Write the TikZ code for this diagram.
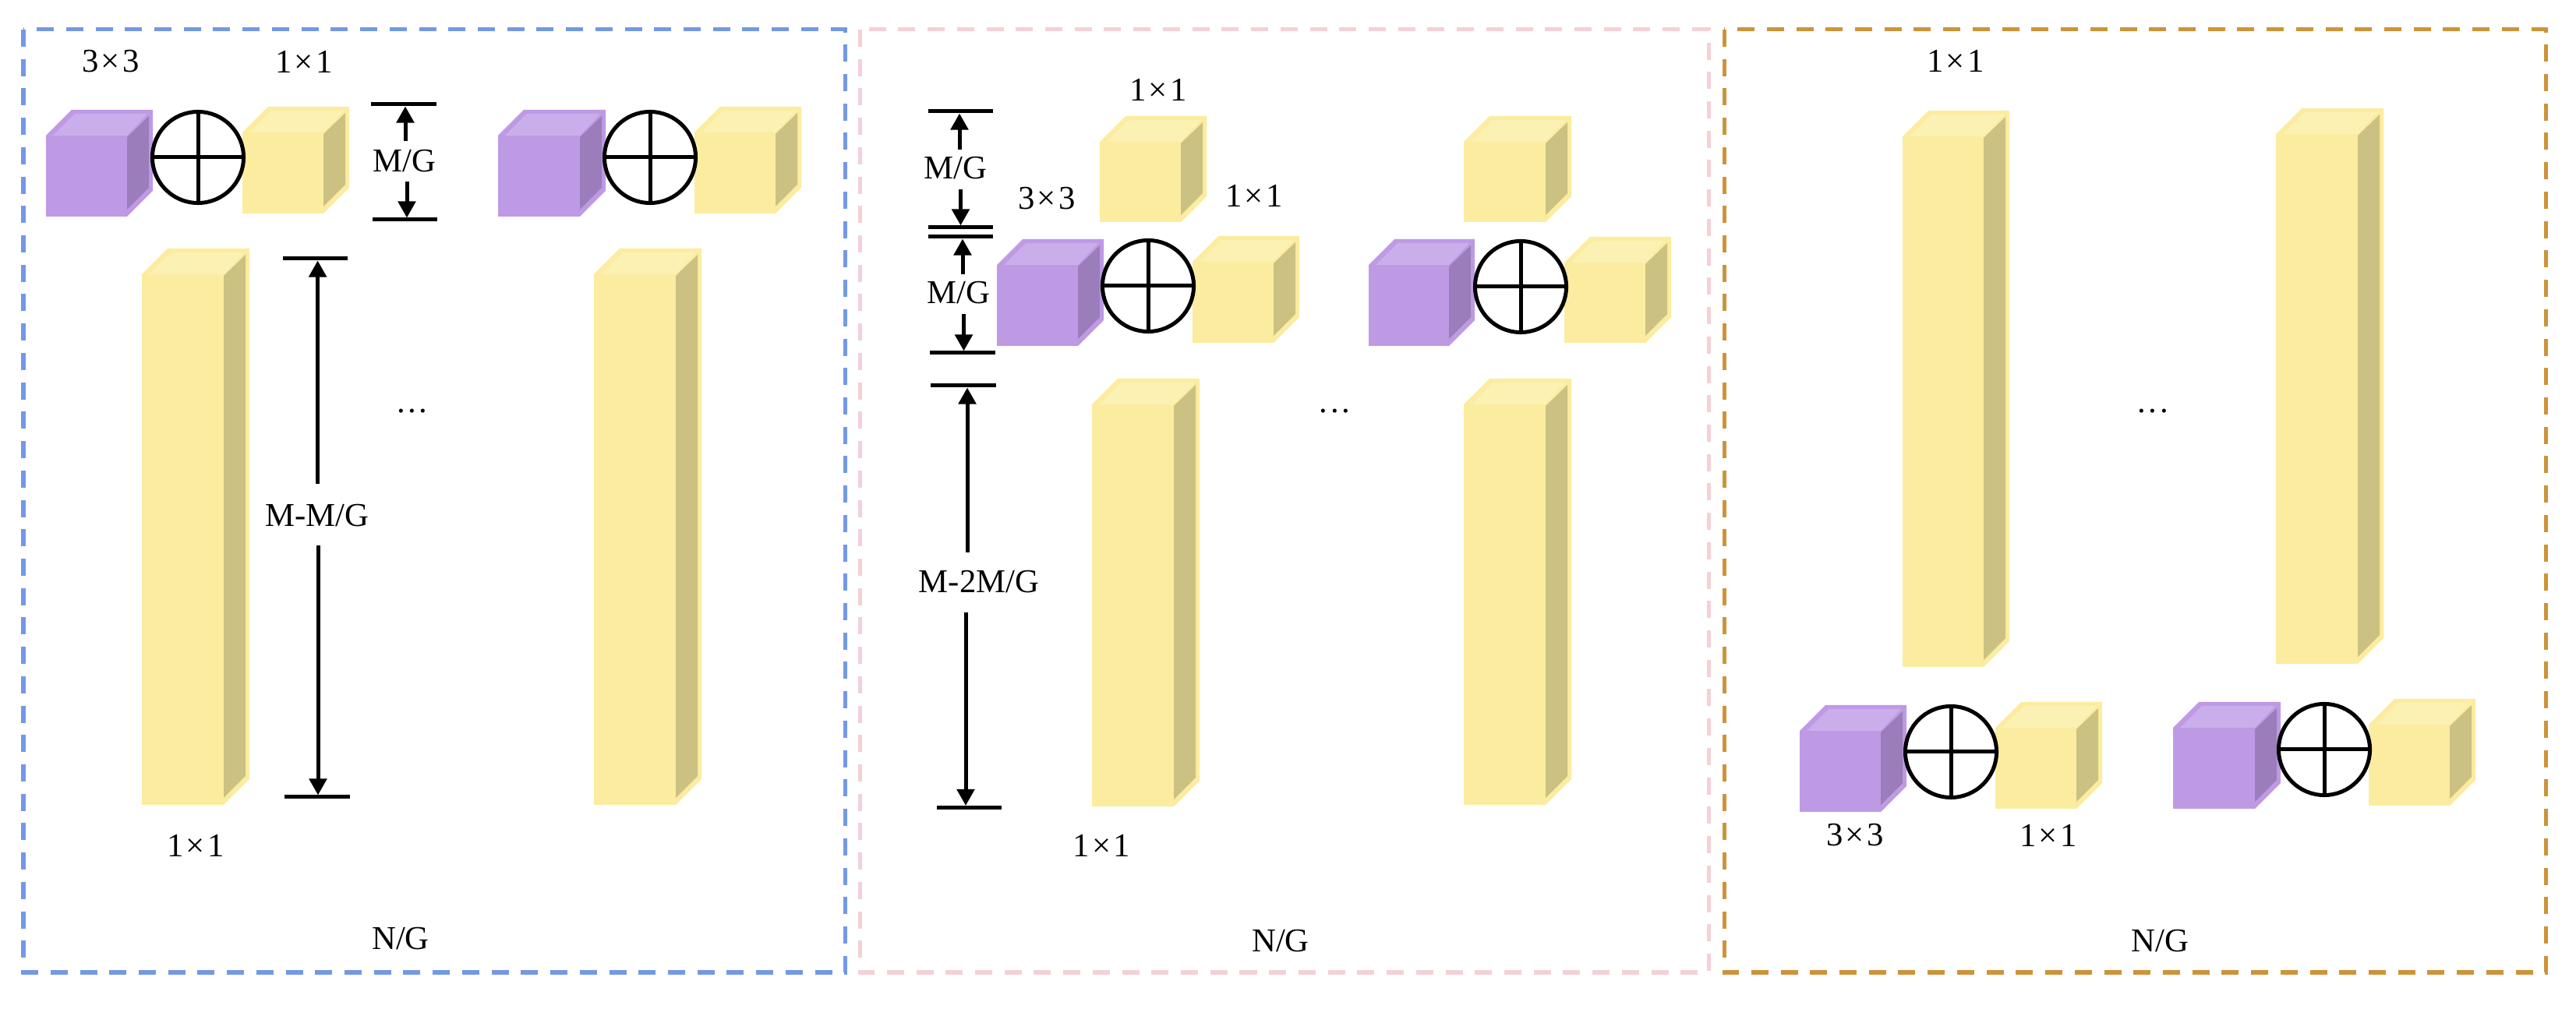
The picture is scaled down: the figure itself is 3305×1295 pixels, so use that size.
\documentclass[tikz,border=0pt]{standalone}
\usepackage{fontspec}
\setmainfont{Liberation Serif}
\usetikzlibrary{arrows.meta}
\definecolor{purpleFront}{HTML}{BE9AE5}
\definecolor{purpleTop}{HTML}{CAAEEB}
\definecolor{purpleSide}{HTML}{9A7DBA}
\definecolor{yellowFront}{HTML}{FBEC9F}
\definecolor{yellowTop}{HTML}{FBF1B2}
\definecolor{yellowSide}{HTML}{CBC182}
\definecolor{frameBlue}{HTML}{7398E6}
\definecolor{framePink}{HTML}{F5D0D6}
\definecolor{frameOrange}{HTML}{CE9338}
\tikzset{
	frame/.style={line width=0.05cm, dash pattern=on 0.22cm off 0.157cm},
	tag/.style={inner sep=0pt, font=\fontsize{12.15pt}{14pt}\selectfont},
	dimbar/.style={fill=black, inner sep=0pt, minimum width=0.83cm, minimum height=0.05cm},
	dimline/.style={line width=0.05cm, shorten >=0.025cm, -{Triangle[length=0.21cm,width=0.22cm]}},
}
\def\by{\kern.08em×\kern.08em}
\def\threedots{.\kern.085em.\kern.085em.}
% colour, front top-left corner, front size
\def\cubeblock[#1](#2,#3)(#4,#5){
	\fill[#1Front] (#2,#3) -- (#2+33,#3-33) -- (#2+#4+33,#3-33) -- (#2+#4+33,#3+#5-33) -- (#2+#4,#3+#5) -- (#2,#3+#5) -- cycle;
	\fill[#1Top] (#2+9,#3) -- (#2+37,#3-28) -- (#2+#4+26,#3-28) -- (#2+#4,#3) -- cycle;
	\fill[#1Side] (#2+#4,#3+2) -- (#2+#4+28,#3-25) -- (#2+#4+28,#3+#5-37) -- (#2+#4,#3+#5-9) -- cycle;
}
\def\addmark(#1,#2){
	\draw[line width=0.05cm, fill=white] (#1,#2) circle (0.585cm);
	\draw[line width=0.05cm] (#1-58.5,#2) -- (#1+58.5,#2);
	\draw[line width=0.05cm] (#1,#2-58.5) -- (#1,#2+58.5);
}

\begin{document}
\begin{tikzpicture}[x=0.01cm, y=-0.01cm]
	%%%%% START %%%%%
	\useasboundingbox (0,0) rectangle (3305,1295);
	
	\draw[frame, color=frameBlue] (30,38) rectangle (1084,1248);
	\draw[frame, color=framePink] (1103,38) rectangle (2192,1248);
	\draw[frame, color=frameOrange] (2212,38) rectangle (3266,1248);
	
	% left panel
	\cubeblock[purple](59,174)(104,104)
	\cubeblock[yellow](311,170)(104,104)
	\addmark(254,202)
	\cubeblock[purple](639,174)(105,104)
	\cubeblock[yellow](891,170)(104,104)
	\addmark(834,202)
	\cubeblock[yellow](182,352)(105,681)
	\cubeblock[yellow](762,352)(105,681)
	
	\node[tag] (sizeA) at (142,79) {3\by 3};
	\node[tag] (sizeB) at (390,79) {1\by 1};
	\node[tag] (sizeC) at (251,1085) {1\by 1};
	\node[tag] (dotsA) at (529,528) {\threedots};
	\node[tag] (groupA) at (514,1205) {N/G};
	
	\node[dimbar] (barA) at (518,134) {};
	\node[dimbar] (barB) at (519.5,282) {};
	\node[dimbar] (barC) at (404.5,332) {};
	\node[dimbar] (barD) at (407,1023) {};
	\node[tag] (partA) at (519,207) {M/G};
	\node[tag] (restA) at (407,662) {M-M/G};
	\coordinate (fromA) at (520,181);
	\coordinate (fromB) at (522,233);
	\coordinate (fromC) at (407.6,621);
	\coordinate (fromD) at (408,700);
	\draw[dimline] (fromA) -- (fromA |- barA);
	\draw[dimline] (fromB) -- (fromB |- barB);
	\draw[dimline] (fromC) -- (fromC |- barC);
	\draw[dimline] (fromD) -- (fromD |- barD);
	
	% middle panel
	\cubeblock[yellow](1411,182)(104,103)
	\cubeblock[purple](1279,340)(104,104)
	\cubeblock[yellow](1530,336)(104,104)
	\addmark(1473,367)
	\cubeblock[yellow](1878,182)(105,103)
	\cubeblock[purple](1756,340)(103,104)
	\cubeblock[yellow](2007,337)(104,103)
	\addmark(1951,368)
	\cubeblock[yellow](1401,519)(105,516)
	\cubeblock[yellow](1878,519)(105,514)
	
	\node[tag] (sizeD) at (1486,115) {1\by 1};
	\node[tag] (sizeE) at (1343,255) {3\by 3};
	\node[tag] (sizeF) at (1609,251) {1\by 1};
	\node[tag] (sizeG) at (1413.5,1085) {1\by 1};
	\node[tag] (dotsB) at (1712.5,528) {\threedots};
	\node[tag] (groupB) at (1643,1208) {N/G};
	
	\node[dimbar] (barE) at (1232.5,143) {};
	\node[dimbar] (barF) at (1232.5,292) {};
	\node[dimbar] (barG) at (1232.5,304) {};
	\node[dimbar] (barH) at (1235,453) {};
	\node[dimbar] (barI) at (1236,495) {};
	\node[dimbar] (barJ) at (1243.5,1036.5) {};
	\node[tag] (partB) at (1226,216) {M/G};
	\node[tag] (partC) at (1230,376) {M/G};
	\node[tag] (restB) at (1256,747) {M-2M/G};
	\coordinate (fromE) at (1231,192);
	\coordinate (fromF) at (1232.5,243);
	\coordinate (fromG) at (1235,352);
	\coordinate (fromH) at (1236.5,403);
	\coordinate (fromI) at (1241,709);
	\coordinate (fromJ) at (1239,786);
	\draw[dimline] (fromE) -- (fromE |- barE);
	\draw[dimline] (fromF) -- (fromF |- barF);
	\draw[dimline] (fromG) -- (fromG |- barG);
	\draw[dimline] (fromH) -- (fromH |- barH);
	\draw[dimline] (fromI) -- (fromI |- barI);
	\draw[dimline] (fromJ) -- (fromJ |- barJ);
	
	% right panel
	\cubeblock[yellow](2441,175)(104,681)
	\cubeblock[yellow](2920,172)(105,680)
	\cubeblock[purple](2309,938)(104,104)
	\cubeblock[yellow](2560,934)(104,104)
	\addmark(2503,965)
	\cubeblock[purple](2788,934)(105,104)
	\cubeblock[yellow](3039,930)(104,104)
	\addmark(2982,962)
	
	\node[tag] (sizeH) at (2509,78) {1\by 1};
	\node[tag] (sizeI) at (2380,1072) {3\by 3};
	\node[tag] (sizeJ) at (2628,1072) {1\by 1};
	\node[tag] (dotsC) at (2762,528) {\threedots};
	\node[tag] (groupC) at (2771.5,1208) {N/G};
	
	%%%%% END %%%%%
\end{tikzpicture}
\end{document}
